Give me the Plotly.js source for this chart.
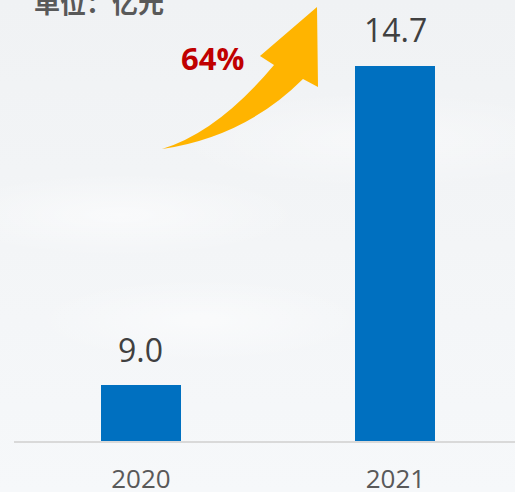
<!DOCTYPE html>
<html>
<head>
<meta charset="utf-8">
<script src="https://cdn.plot.ly/plotly-3.0.1.min.js"></script>
<style>
html,body{margin:0;padding:0;}
body{
  width:515px;height:492px;overflow:hidden;
  background:
    radial-gradient(ellipse 260px 60px at 120px 215px, rgba(255,255,255,0.55), rgba(255,255,255,0) 70%),
    radial-gradient(ellipse 300px 70px at 380px 140px, rgba(255,255,255,0.45), rgba(255,255,255,0) 70%),
    radial-gradient(ellipse 240px 60px at 200px 320px, rgba(255,255,255,0.5), rgba(255,255,255,0) 70%),
    linear-gradient(180deg, #f0f2f4 0%, #f2f4f6 35%, #f4f6f8 65%, #f6f8fa 100%);
}
#chart{width:515px;height:492px;}
</style>
</head>
<body>
<div id="chart"></div>
<script>
// Data
const categories = ['2020', '2021'];
const values = [9.0, 14.7];
const valueLabels = ['9.0', '14.7'];
const growthLabel = '64%';
const unitLabel = '单位：亿元';

// Layout geometry helpers (pixel -> paper)
const W = 515, H = 492, ML = 14, MR = 0, MT = 0, MB = 51;
const PW = W - ML - MR, PH = H - MT - MB;
function px(x){ return ((x - ML) / PW).toFixed(4); }
function py(y){ return ((H - MB - y) / PH).toFixed(4); }

const arrowPath =
  'M ' + px(162) + ' ' + py(149) +
  ' Q ' + px(218) + ' ' + py(132) + ' ' + px(274) + ' ' + py(65) +
  ' L ' + px(260) + ' ' + py(56) +
  ' L ' + px(317) + ' ' + py(7) +
  ' L ' + px(318) + ' ' + py(87) +
  ' L ' + px(303) + ' ' + py(79) +
  ' Q ' + px(245.5) + ' ' + py(136.5) + ' ' + px(162) + ' ' + py(149) + ' Z';

const barTrace = {
  type: 'bar',
  x: categories,
  y: values,
  width: 0.314,
  marker: {color: '#0070C0', line: {width: 0}},
  hoverinfo: 'skip'
};

const labelAnnotations = categories.map((c, i) => ({
  x: i, y: values[i], xref: 'x', yref: 'y',
  text: valueLabels[i], showarrow: false,
  xanchor: 'center', yanchor: 'middle', yshift: 36,
  font: {family: 'Open Sans, Noto Sans, sans-serif', size: 32, color: '#404040'}
}));

const layout = {
  width: W, height: H,
  margin: {l: ML, r: MR, t: MT, b: MB, pad: 0},
  paper_bgcolor: 'rgba(0,0,0,0)',
  plot_bgcolor: 'rgba(0,0,0,0)',
  showlegend: false,
  bargap: 0,
  xaxis: {
    type: 'category',
    range: [-0.499, 1.47],
    showgrid: false, zeroline: false,
    showline: true, linecolor: '#d9d9d9', linewidth: 2,
    ticks: '', ticklabelstandoff: 14,
    tickfont: {family: 'Open Sans, Noto Sans, sans-serif', size: 26, color: '#595959'},
    fixedrange: true
  },
  yaxis: {
    range: [8, 8 + 441 / 56],
    visible: false, showgrid: false, zeroline: false,
    fixedrange: true
  },
  shapes: [{
    type: 'path', xref: 'paper', yref: 'paper',
    path: arrowPath,
    fillcolor: '#FFB400', line: {width: 0}, layer: 'above'
  }],
  annotations: labelAnnotations.concat([
    {
      xref: 'paper', yref: 'paper', x: px(213), y: py(58),
      xanchor: 'center', yanchor: 'middle', showarrow: false,
      text: '<b>' + growthLabel + '</b>',
      font: {family: 'Open Sans, Noto Sans, sans-serif', size: 31, color: '#C00000'}
    },
    {
      xref: 'paper', yref: 'paper', x: px(32), y: py(1),
      xanchor: 'left', yanchor: 'middle', showarrow: false,
      text: '<b>' + unitLabel + '</b>',
      font: {family: 'Noto Sans CJK SC, sans-serif', size: 26, color: '#595959'}
    }
  ])
};

Plotly.newPlot('chart', [barTrace], layout, {displayModeBar: false, staticPlot: true});
</script>
</body>
</html>
